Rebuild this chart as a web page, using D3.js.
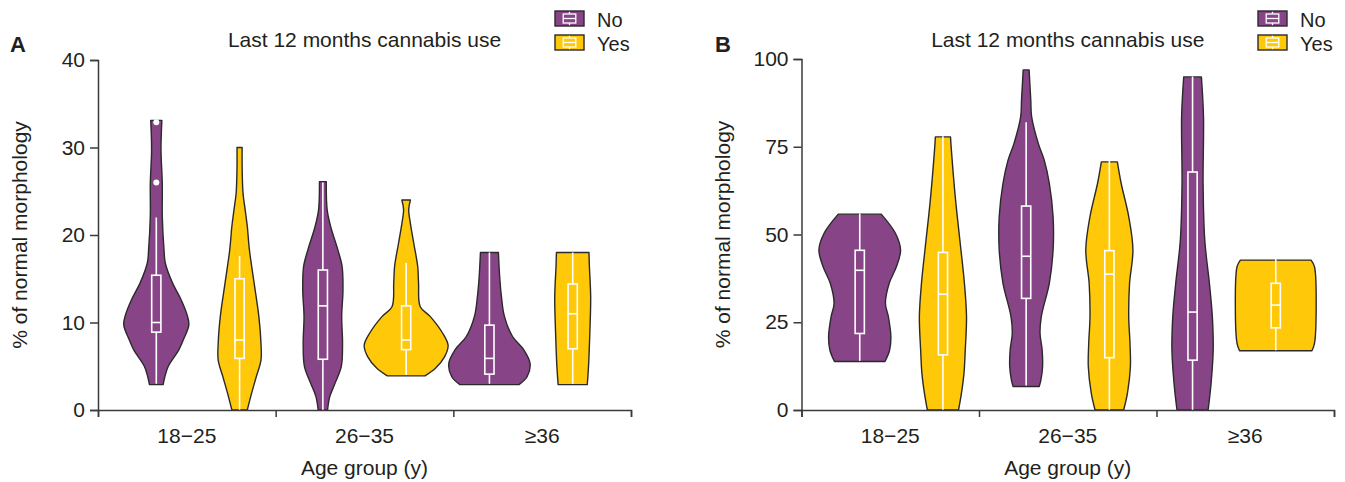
<!DOCTYPE html>
<html>
<head>
<meta charset="utf-8">
<script src="https://cdn.jsdelivr.net/npm/d3@7"></script>
<style>
  html, body { margin: 0; padding: 0; background: #fff; }
  svg { display: block; font-family: "Liberation Sans", Arial, Helvetica, sans-serif; }
</style>
</head>
<body>
<svg id="chart" width="1345" height="482"></svg>
<script>
// ---------------- DATA ----------------
const ageGroups = ["18\u221225", "26\u221235", "\u226536"];
const useGroups = ["No", "Yes"];
const panelLabels = ["A", "B"];
const chartTitle = "Last 12 months cannabis use";
const xTitle = "Age group (y)";
const yTitle = "% of normal morphology";

const yTicksA = [0, 10, 20, 30, 40];
const yTicksB = [0, 25, 50, 75, 100];

// violin order: No 18-25, Yes 18-25, No 26-35, Yes 26-35, No >=36, Yes >=36
// density profiles: [value, relative density]
const densityA = [
  [[2.9,.16],[3.8,.20],[5.0,.28],[6.9,.53],[8.0,.63],[9.7,.76],[10.7,.73],[12.6,.58],[14.5,.38],[16.8,.21],[18.3,.18],[22.1,.14],[25.9,.14],[29.7,.11],[33.1,.13]],
  [[0,.18],[1.9,.28],[3.8,.39],[5.7,.50],[7.6,.50],[10.7,.45],[14.5,.34],[18.3,.23],[21.0,.18],[22.9,.13],[24.8,.08],[27.8,.06],[30.0,.06]],
  [[0,.11],[1.5,.16],[3.0,.28],[4.95,.43],[7.6,.46],[10.7,.44],[13.7,.47],[16.4,.45],[18.3,.35],[21.0,.18],[22.9,.10],[26.1,.08]],
  [[3.9,.44],[4.8,.69],[6.1,.90],[7.4,.98],[8.8,.85],[10.7,.56],[11.8,.33],[14.5,.29],[16.4,.27],[19.0,.18],[21.3,.10],[22.9,.06],[24.0,.10]],
  [[2.9,.69],[3.8,.88],[5.3,.95],[6.9,.80],[8.4,.54],[10.7,.35],[13.0,.28],[15.2,.24],[18.0,.21]],
  [[2.9,.34],[5.0,.37],[8.8,.40],[12.9,.42],[16.4,.39],[18.0,.38]]
];
const densityB = [
  [[13.8,.60],[17.1,.71],[20.9,.74],[26.6,.68],[30.4,.61],[36.1,.70],[40.8,.87],[45.6,.97],[50.3,.85],[55.8,.51]],
  [[0,.37],[4.8,.44],[10.5,.50],[17.1,.53],[26.6,.56],[36.1,.51],[47.5,.41],[59.8,.30],[74.1,.20],[77.8,.18]],
  [[6.7,.31],[8.5,.35],[12.3,.39],[17.1,.38],[21.8,.33],[26.6,.36],[36.1,.55],[45.6,.64],[55.1,.64],[64.6,.55],[71.2,.43],[75.9,.29],[83.6,.13],[88.3,.11],[96.9,.07]],
  [[0,.34],[4.8,.43],[12.3,.50],[19.0,.49],[26.6,.46],[36.1,.48],[45.6,.56],[55.1,.46],[64.6,.28],[70.7,.19]],
  [[0,.37],[7.6,.44],[17.1,.49],[26.6,.47],[36.1,.40],[48.4,.29],[64.6,.25],[83.6,.26],[94.9,.21]],
  [[16.9,.86],[19.0,.92],[29.4,.96],[40.8,.92],[42.7,.84]]
];
// box stats: [whisker low, Q1, median, Q3, whisker high]
const boxA = [
  [3, 8.9, 10.0, 15.4, 22],
  [0, 5.9, 8.0, 15.0, 17.6],
  [0, 5.8, 11.9, 16.0, 26],
  [4, 6.9, 8.0, 11.9, 16.8],
  [3, 4.1, 5.9, 9.7, 18],
  [3, 7.0, 11.0, 14.4, 18]
];
const boxB = [
  [14, 21.8, 39.8, 45.5, 56],
  [0, 15.7, 33.0, 44.9, 78],
  [7, 31.8, 43.8, 58.1, 82],
  [0, 14.9, 38.7, 45.4, 71],
  [0, 14.2, 27.9, 67.8, 95],
  [17, 23.4, 29.9, 36.1, 43]
];
// outliers: [violin index, value]
const outliersA = [[0, 26], [0, 32.9]];
const outliersB = [];

// ---------------- STYLE ----------------
const colors = { No: "#874487", Yes: "#FFC808" };
const outlineColor = "#2a2a2a";
const axisColor = "#3a3a3a";
const textColor = "#231f20";

const svg = d3.select("#chart");

const panels = [
  { label: panelLabels[0], left: 98, right: 631, top: 60, bottom: 410, yMax: 40, ticks: yTicksA,
    dens: densityA, box: boxA, out: outliersA, labelX: 10, yTitleX: 27, legendX: 555, wMax: 42.8 },
  { label: panelLabels[1], left: 801.5, right: 1334, top: 59, bottom: 410, yMax: 100, ticks: yTicksB,
    dens: densityB, box: boxB, out: outliersB, labelX: 715, yTitleX: 730, legendX: 1258, wMax: 42.1 }
];

const violinKeys = [];
ageGroups.forEach(a => useGroups.forEach(u => violinKeys.push(a + "|" + u)));

panels.forEach(p => {
  const g = svg.append("g");
  const y = d3.scaleLinear().domain([0, p.yMax]).range([p.bottom, p.top]);
  const xv = d3.scalePoint().domain(violinKeys).range([p.left, p.right]).padding(0.7);
  const xBand = d3.scaleBand().domain(ageGroups).range([p.left, p.right]).padding(0);
  const xEdge = d3.scaleLinear().domain([0, ageGroups.length]).range([p.left, p.right]);
  const w = d3.scaleLinear().domain([0, 1]).range([0, p.wMax]);
  const midX = (p.left + p.right) / 2;

  // violins
  violinKeys.forEach((k, i) => {
    const cx = xv(k);
    const use = k.split("|")[1];
    const area = d3.area()
      .y(d => y(d[0]))
      .x0(d => cx - w(d[1]))
      .x1(d => cx + w(d[1]))
      .curve(d3.curveCatmullRom.alpha(0.5));
    g.append("path")
      .attr("d", area(p.dens[i]))
      .attr("fill", colors[use])
      .attr("stroke", outlineColor)
      .attr("stroke-width", 1.4)
      .attr("stroke-linejoin", "round");

    const b = p.box[i];
    const bw = 4.6;
    const wg = g.append("g").attr("stroke", "#fff").attr("stroke-width", 1.6).attr("fill", "none");
    wg.append("line").attr("x1", cx).attr("x2", cx).attr("y1", y(b[0])).attr("y2", y(b[1]));
    wg.append("line").attr("x1", cx).attr("x2", cx).attr("y1", y(b[3])).attr("y2", y(b[4]));
    wg.append("rect").attr("x", cx - bw).attr("width", 2 * bw)
      .attr("y", y(b[3])).attr("height", y(b[1]) - y(b[3]));
    wg.append("line").attr("x1", cx - bw).attr("x2", cx + bw).attr("y1", y(b[2])).attr("y2", y(b[2]));
  });
  p.out.forEach(o => {
    g.append("circle").attr("cx", xv(violinKeys[o[0]])).attr("cy", y(o[1])).attr("r", 3).attr("fill", "#fff");
  });

  // y axis
  const ya = g.append("g").attr("transform", `translate(${p.left},0)`)
    .call(d3.axisLeft(y).tickValues(p.ticks).tickSize(8).tickPadding(5).tickFormat(d3.format("d")));
  // x axis: boundary ticks
  const xe = g.append("g").attr("transform", `translate(0,${p.bottom})`)
    .call(d3.axisBottom(xEdge).tickValues(d3.range(ageGroups.length + 1)).tickSize(7).tickFormat(""));
  // x axis labels
  const xl = g.append("g").attr("transform", `translate(0,${p.bottom})`)
    .call(d3.axisBottom(xBand).tickSize(0).tickPadding(18));
  xl.select(".domain").remove();

  [ya, xe, xl].forEach(ax => {
    ax.selectAll(".domain").attr("stroke", axisColor).attr("stroke-width", 1.5);
    ax.selectAll(".tick line").attr("stroke", axisColor).attr("stroke-width", 1.5);
    ax.selectAll("text").attr("fill", textColor).style("font-size", "21px")
      .style("font-family", "'Liberation Sans', Arial, sans-serif");
  });

  // titles
  g.append("text").attr("x", midX).attr("y", 475)
    .attr("text-anchor", "middle").attr("fill", textColor).style("font-size", "21px").text(xTitle);
  g.append("text").attr("transform", `translate(${p.yTitleX},${(p.top + p.bottom) / 2}) rotate(-90)`)
    .attr("text-anchor", "middle").attr("fill", textColor).style("font-size", "21px").text(yTitle);
  g.append("text").attr("x", midX).attr("y", 47)
    .attr("text-anchor", "middle").attr("fill", textColor).style("font-size", "21px").text(chartTitle);
  g.append("text").attr("x", p.labelX).attr("y", 52)
    .attr("fill", textColor).style("font-size", "22px").style("font-weight", "bold").text(p.label);

  // legend
  const lg = g.append("g").attr("transform", `translate(${p.legendX},11)`);
  useGroups.forEach((u, j) => {
    const row = lg.append("g").attr("transform", `translate(0,${j * 24})`);
    const sw = 29, sh = 15, bw2 = 6.3, bh = 9;
    row.append("rect").attr("width", sw).attr("height", sh)
      .attr("fill", colors[u]).attr("stroke", outlineColor).attr("stroke-width", 1.4);
    const ig = row.append("g").attr("stroke", "#fff").attr("stroke-width", 1.3).attr("fill", "none");
    const cxs = sw / 2, top = (sh - bh) / 2;
    ig.append("line").attr("x1", cxs).attr("x2", cxs).attr("y1", 0.8).attr("y2", top);
    ig.append("line").attr("x1", cxs).attr("x2", cxs).attr("y1", top + bh).attr("y2", sh - 0.8);
    ig.append("rect").attr("x", cxs - bw2).attr("y", top).attr("width", 2 * bw2).attr("height", bh);
    ig.append("line").attr("x1", cxs - bw2).attr("x2", cxs + bw2).attr("y1", sh / 2).attr("y2", sh / 2);
    row.append("text").attr("x", 42).attr("y", 16).attr("fill", textColor)
      .style("font-size", "20px").text(u);
  });
});
</script>
</body>
</html>
